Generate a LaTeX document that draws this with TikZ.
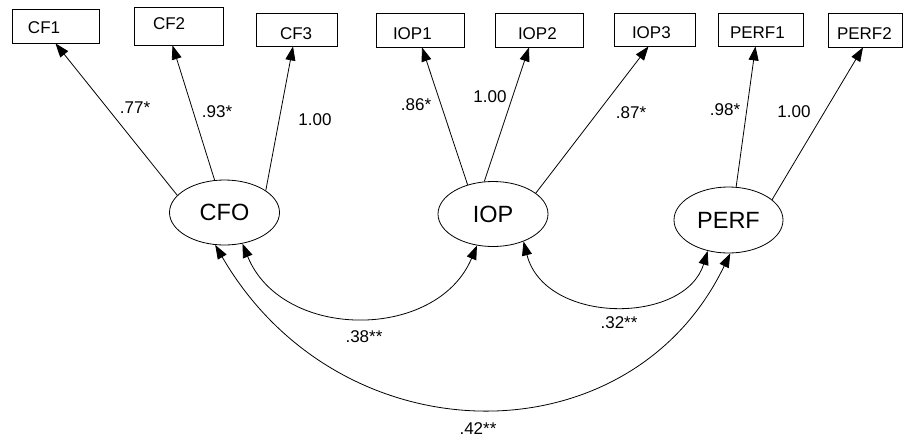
\documentclass[tikz,border=0pt]{standalone}
\usepackage{fontspec}
\setmainfont{Liberation Sans}
\usetikzlibrary{arrows.meta,shapes.geometric}
\newcommand{\boxtext}[3]{\makebox[#1pt][l]{\hspace*{#2pt}#3}}
\begin{document}
\begin{tikzpicture}[x=1pt,y=-1pt,
  >={Triangle[length=14pt,width=10pt]},
  box/.style={draw, line width=0.8pt, rectangle, inner sep=0pt,
    text height=18pt, text depth=0pt, font=\fontsize{17}{17}\selectfont},
  lat/.style={draw, ellipse, line width=0.8pt, inner sep=0pt, minimum width=110pt, minimum height=65pt, font=\fontsize{23.5}{24}\selectfont},
  coef/.style={inner sep=0pt, font=\fontsize{17}{17}\selectfont},
  load/.style={line width=0.8pt, ->},
  cov/.style={line width=0.8pt, <->}]
\fill[white] (0,0) rectangle (906,437);
\useasboundingbox (0,0) rectangle (906,437);

% observed indicators
\node[box, minimum height=34pt, text height=15.2pt] (CF1) at (55.5,26) {\boxtext{87}{16}{CF1}};
\node[box, minimum height=38pt, text height=12.2pt, text depth=4.6pt] (CF2) at (178.5,26) {\boxtext{89}{19}{CF2}};
\node[box, minimum height=33pt, text height=20pt] (CF3) at (296.5,29.5) {\boxtext{81}{24}{CF3}};
\node[box, minimum height=34pt] (IOP1) at (420,30) {\boxtext{88}{17}{IOP1}};
\node[box, minimum height=34pt] (IOP2) at (539,30) {\boxtext{88}{23}{IOP2}};
\node[box, minimum height=33pt] (IOP3) at (654.5,29.5) {\boxtext{81}{18}{IOP3}};
\node[box, minimum height=33pt] (PERF1) at (760.5,29.5) {\boxtext{85}{12}{PERF1}};
\node[box, minimum height=34pt] (PERF2) at (865,30) {\boxtext{74}{9}{PERF2}};

% latent variables
\node[lat] (CFO) at (224.5,212.5) {CFO};
\node[lat] (IOP) at (493,214) {IOP};
\node[lat, minimum width=109pt, minimum height=66pt] (PERF) at (728.5,220) {PERF};

% loadings
\draw[load] (CFO.160) -- (CF1.south);
\draw[load] (CFO.107) -- ([xshift=-6pt]CF2.south);
\draw[load] (CFO.28) -- ([xshift=-3.5pt]CF3.south);
\draw[load] (IOP.131) -- ([xshift=2pt]IOP1.south);
\draw[load] (IOP.105) -- ([xshift=-10pt]IOP2.south);
\draw[load] (IOP.26) -- ([xshift=-6pt]IOP3.south);
\draw[load] (PERF.77) -- ([xshift=-5pt]PERF1.south);
\draw[load] (PERF.25) -- ([xshift=-2pt]PERF2.south);

% covariances
\draw[cov] (CFO.-60) .. controls (282,341) and (437,341) .. (IOP.-117);
\draw[cov] (IOP.-42) .. controls (545,325) and (685,325) .. (PERF.-124);
\draw[cov] (CFO.-106) .. controls (340,460) and (630,462) .. (PERF.-87);

% coefficients
\node[coef] (c1) at (135,108) {.77*};
\node[coef] (c2) at (217,112) {.93*};
\node[coef] (c3) at (315,120) {1.00};
\node[coef] (c4) at (416,105) {.86*};
\node[coef] (c5) at (490,97) {1.00};
\node[coef] (c6) at (631,113) {.87*};
\node[coef] (c7) at (725,110) {.98*};
\node[coef] (c8) at (794,112) {1.00};
\node[coef] (r1) at (364,337) {.38**};
\node[coef] (r2) at (619,323) {.32**};
\node[coef] (r3) at (478,429) {.42**};
\end{tikzpicture}
\end{document}
